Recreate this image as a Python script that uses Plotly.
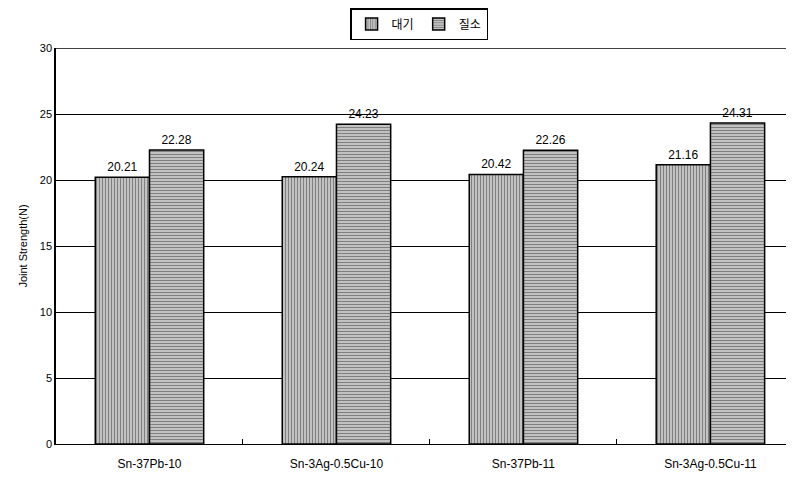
import plotly.graph_objects as go

categories = ["Sn-37Pb-10", "Sn-3Ag-0.5Cu-10", "Sn-37Pb-11", "Sn-3Ag-0.5Cu-11"]
air_values = [20.21, 20.24, 20.42, 21.16]
nitrogen_values = [22.28, 24.23, 22.26, 24.31]
series_names = ["대기", "질소"]
y_ticks = [0, 5, 10, 15, 20, 25, 30]

FONT = "Liberation Sans, Arial, Noto Sans CJK KR, sans-serif"

fig = go.Figure()
fig.add_trace(go.Bar(
    name=series_names[0], x=categories, y=air_values,
    text=[f"{v:.2f}" for v in air_values], textposition="outside",
    textfont=dict(size=12, color="black"), cliponaxis=False,
    marker=dict(color="white", line=dict(color="black", width=1.5),
                pattern=dict(shape="|", fgcolor="black", bgcolor="white", size=3, solidity=0.65)),
))
fig.add_trace(go.Bar(
    name=series_names[1], x=categories, y=nitrogen_values,
    text=[f"{v:.2f}" for v in nitrogen_values], textposition="outside",
    textfont=dict(size=12, color="black"), cliponaxis=False,
    marker=dict(color="white", line=dict(color="black", width=1.5),
                pattern=dict(shape="-", fgcolor="black", bgcolor="white", size=3, solidity=0.65)),
))

fig.add_shape(type="line", xref="paper", yref="y", x0=0, x1=1, y0=30, y1=30,
              line=dict(color="black", width=1.5))

fig.update_layout(
    width=786, height=469,
    margin=dict(l=48, r=0, t=40, b=33, autoexpand=False),
    paper_bgcolor="white", plot_bgcolor="white",
    font=dict(family=FONT, color="black", size=11),
    barmode="group", bargap=0.42, bargroupgap=0,
    showlegend=True,
    legend=dict(orientation="h", xref="container", x=0.523, xanchor="center",
                yref="container", y=1.0, yanchor="top",
                bordercolor="black", borderwidth=1.5, bgcolor="white",
                font=dict(size=12, family="Noto Sans CJK KR, sans-serif"),
                itemwidth=30, traceorder="normal", tracegroupgap=0),
    xaxis=dict(range=[-0.5, 3.447], showline=True, linecolor="black", linewidth=1,
               ticks="inside", tickson="boundaries", ticklen=5, tickcolor="black",
               tickfont=dict(size=12), ticklabelstandoff=9,
               showgrid=False, automargin=False),
    yaxis=dict(range=[0, 30], tickvals=y_ticks, showline=True, linecolor="black", linewidth=1.5,
               showgrid=True, gridcolor="black", gridwidth=1, zeroline=False,
               ticks="", tickfont=dict(size=11), automargin=False,
               title=dict(text="Joint Strength(N)", font=dict(size=11), standoff=10)),
)

fig.write_html("out.html")
